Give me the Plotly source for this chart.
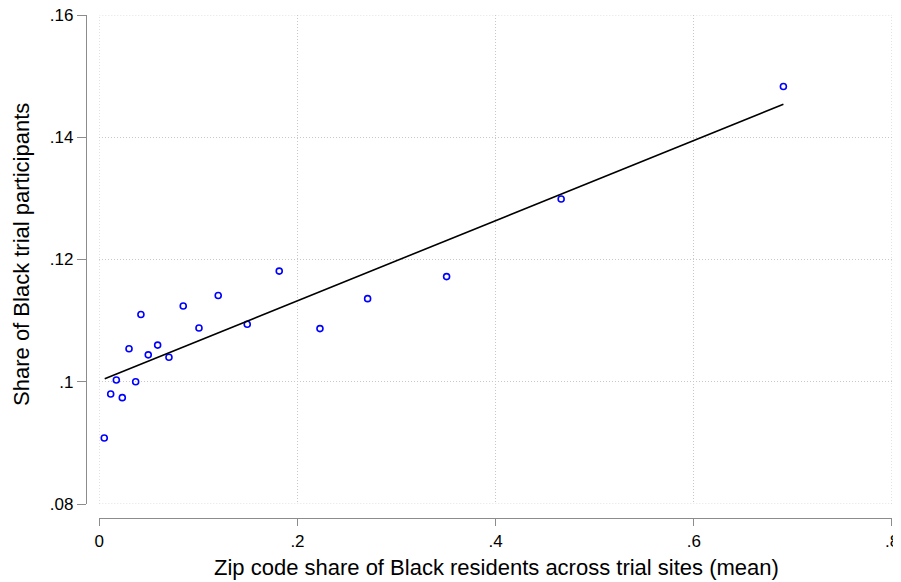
import plotly.graph_objects as go

# Binned scatter data
bin_x = [0.005, 0.0115, 0.0172, 0.0232, 0.030, 0.0367, 0.042, 0.0494, 0.0589, 0.0703,
         0.0847, 0.1006, 0.120, 0.1493, 0.1816, 0.2227, 0.2708, 0.3505, 0.4661, 0.6904]
bin_y = [0.0908, 0.0980, 0.1003, 0.0974, 0.1054, 0.1000, 0.1110, 0.1044, 0.1060, 0.1040,
         0.1124, 0.1088, 0.1141, 0.1094, 0.1181, 0.1087, 0.1136, 0.1172, 0.1299, 0.1483]

# Linear fit endpoints
fit_x = [0.0055, 0.6904]
fit_y = [0.1005, 0.1454]

x_ticks = [0, 0.2, 0.4, 0.6, 0.8]
x_labels = ["0", ".2", ".4", ".6", ".8"]
y_ticks = [0.08, 0.10, 0.12, 0.14, 0.16]
y_labels = [".08", ".1", ".12", ".14", ".16"]

x_title = "Zip code share of Black residents across trial sites (mean)"
y_title = "Share of Black trial participants"

FONT = "Liberation Sans, Arial, Helvetica, sans-serif"
AXC = "#8c8c8c"
GRIDC = "#c8c8c8"
GRIDDASH = "1px,2px"

fig = go.Figure()
fig.add_trace(go.Scatter(
    x=bin_x, y=bin_y, mode="markers",
    marker=dict(symbol="circle-open", size=6, color="#0000ff", line=dict(width=1.6, color="#0000ff")),
    showlegend=False, hoverinfo="x+y"))
fig.add_trace(go.Scatter(
    x=fit_x, y=fit_y, mode="lines",
    line=dict(color="black", width=1.6),
    showlegend=False))

# gridlines at the range edges (plotly omits them)
for xv in (x_ticks[0], x_ticks[-1]):
    fig.add_shape(type="line", xref="x", yref="y", x0=xv, x1=xv, y0=y_ticks[0], y1=y_ticks[-1],
                  line=dict(color=GRIDC, width=1, dash=GRIDDASH), layer="below")
for yv in (y_ticks[0], y_ticks[-1]):
    fig.add_shape(type="line", xref="x", yref="y", x0=x_ticks[0], x1=x_ticks[-1], y0=yv, y1=yv,
                  line=dict(color=GRIDC, width=1, dash=GRIDDASH), layer="below")

fig.add_annotation(text=x_title, xref="paper", yref="paper", x=0.5095, y=-0.098,
                   xanchor="center", yanchor="middle", showarrow=False,
                   font=dict(size=22, family=FONT, color="black"))
fig.add_annotation(text=y_title, xref="paper", yref="paper", x=-0.0794, y=0.523,
                   xanchor="center", yanchor="middle", showarrow=False, textangle=-90,
                   font=dict(size=22, family=FONT, color="black"))

# page body has an 8px margin, so the figure is shifted by 8px; size accordingly
fig.update_layout(
    width=893, height=574,
    margin=dict(l=78, r=9, t=7, b=64, autoexpand=False),
    paper_bgcolor="white", plot_bgcolor="white",
    font=dict(family=FONT, size=16, color="black"),
    xaxis=dict(
        range=[0, 0.8], domain=[0.0165, 1],
        anchor="free", position=0, automargin=False,
        tickvals=x_ticks, ticktext=x_labels, ticklabeloverflow="allow",
        showline=True, linecolor=AXC, linewidth=1.3,
        ticks="outside", ticklen=7, tickcolor=AXC, tickwidth=1.3,
        showgrid=True, gridcolor=GRIDC, griddash=GRIDDASH, gridwidth=1,
        zeroline=False,
        tickfont=dict(size=17, family=FONT, color="black"),
    ),
    yaxis=dict(
        range=[0.08, 0.16], domain=[0.0278, 1],
        anchor="free", position=0, automargin=False,
        tickvals=y_ticks, ticktext=y_labels, ticklabeloverflow="allow",
        showline=True, linecolor=AXC, linewidth=1.3,
        ticks="outside", ticklen=9, tickcolor=AXC, tickwidth=1.3,
        showgrid=True, gridcolor=GRIDC, griddash=GRIDDASH, gridwidth=1,
        zeroline=False,
        tickfont=dict(size=17, family=FONT, color="black"),
    ),
)

fig.write_html("out.html")
